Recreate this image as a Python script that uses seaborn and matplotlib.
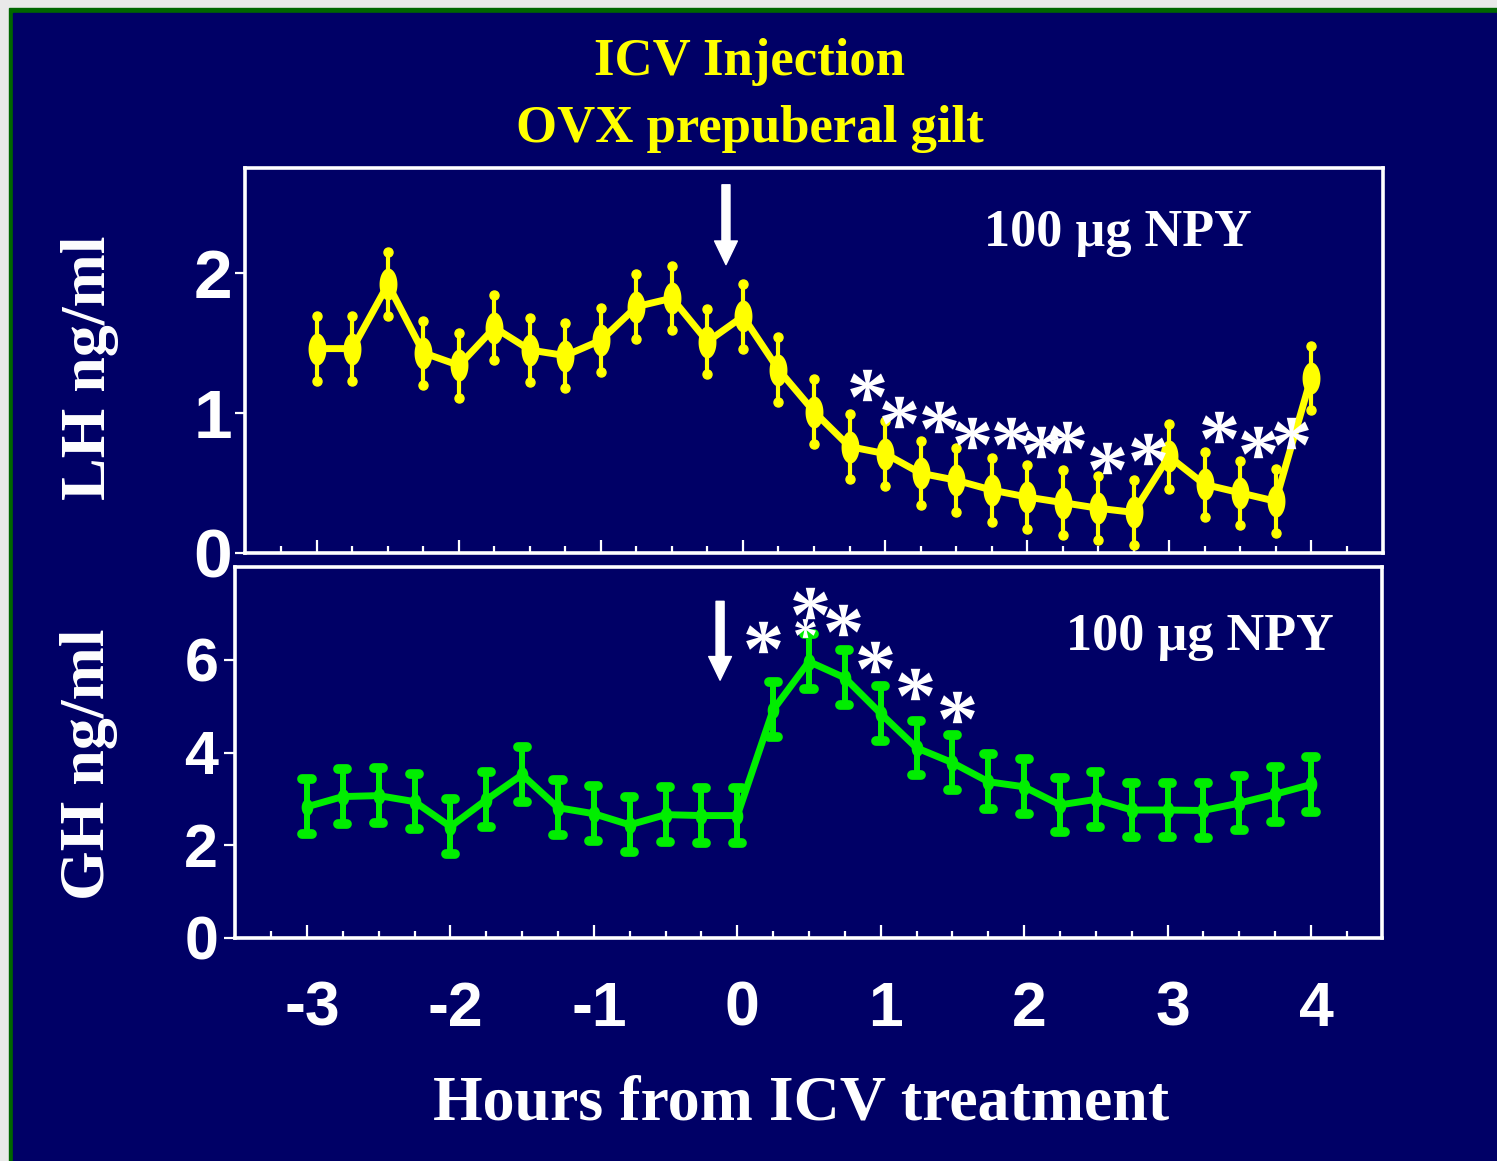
import numpy as np
import matplotlib
matplotlib.use("Agg")
import matplotlib.pyplot as plt
import seaborn as sns
from matplotlib.path import Path
from matplotlib.textpath import TextPath
from matplotlib.font_manager import FontProperties
from matplotlib.patches import Rectangle
from matplotlib.ticker import FixedLocator
from matplotlib.transforms import ScaledTranslation

# ---------------------------------------------------------------- data
hours = [-3.0, -2.75, -2.5, -2.25, -2.0, -1.75, -1.5, -1.25, -1.0, -0.75, -0.5, -0.25,
         0.0, 0.25, 0.5, 0.75, 1.0, 1.25, 1.5, 1.75, 2.0, 2.25, 2.5, 2.75,
         3.0, 3.25, 3.5, 3.75, 4.0]

lh_mean = [1.46, 1.46, 1.92, 1.43, 1.34, 1.61, 1.45, 1.41, 1.52, 1.76, 1.82, 1.51,
           1.69, 1.31, 1.01, 0.76, 0.71, 0.57, 0.52, 0.45, 0.40, 0.36, 0.32, 0.29,
           0.69, 0.49, 0.43, 0.37, 1.25]
lh_sem = [0.23] * 29

gh_mean = [2.83, 3.05, 3.07, 2.94, 2.40, 2.98, 3.52, 2.81, 2.68, 2.44, 2.66, 2.64,
           2.64, 4.92, 5.96, 5.61, 4.84, 4.10, 3.78, 3.37, 3.26, 2.87, 2.99, 2.76,
           2.76, 2.75, 2.91, 3.10, 3.31]
gh_sem = [0.59] * 29

# significance asterisks (hours, ng/ml)
lh_star_x = [0.87, 1.10, 1.38, 1.61, 1.89, 2.10, 2.28, 2.56, 2.85, 3.35, 3.63, 3.86]
lh_star_y = [1.20, 1.01, 0.97, 0.86, 0.86, 0.79, 0.83, 0.68, 0.74, 0.90, 0.79, 0.86]
gh_star_x = [0.18, 0.51, 0.74, 0.96, 1.24, 1.53]
gh_star_y = [6.49, 7.22, 6.85, 6.06, 5.47, 4.98]
gh_small_star = (0.47, 6.68)

x_ticks = [-3, -2, -1, 0, 1, 2, 3, 4]
x_ticklabels = ["-3", "-2", "-1", "0", "1", "2", "3", "4"]
lh_ticks = [0, 1, 2]
gh_ticks = [0, 2, 4, 6]
injection_time = -0.12

# ---------------------------------------------------------------- style
NAVY = "#000066"
YELLOW = "#ffff00"
GREEN = "#00ee00"
BORDER = "#006600"

sns.set_style("dark", rc={
    "axes.facecolor": NAVY,
    "figure.facecolor": "#e9e9e9",
    "axes.edgecolor": "white",
    "axes.grid": False,
    "xtick.color": "white",
    "ytick.color": "white",
    "text.color": "white",
    "xtick.bottom": True,
    "ytick.left": True,
})
plt.rcParams["font.family"] = ["Liberation Sans", "DejaVu Sans"]
plt.rcParams["font.weight"] = "bold"
SERIF = ["Liberation Serif", "DejaVu Serif"]

W, H = 1497, 1161
fig = plt.figure(figsize=(W / 100, H / 100), dpi=100)


def px_box(left, top, right, bottom):
    return [left / W, 1 - bottom / H, (right - left) / W, (bottom - top) / H]


# slide background with its green edge
fig.patches.append(Rectangle((9 / W, 0), 1, 1 - 8 / H, transform=fig.transFigure,
                             color=BORDER, zorder=-3))
fig.patches.append(Rectangle((13 / W, 0), 1, 1 - 13 / H, transform=fig.transFigure,
                             color=NAVY, zorder=-2))

ax_lh = fig.add_axes(px_box(245, 168, 1383, 553))
ax_gh = fig.add_axes(px_box(235, 567, 1382, 938))


def ellipse_marker(rx, ry):
    t = np.linspace(0, 2 * np.pi, 60)
    return Path(np.column_stack([rx * np.cos(t), ry * np.sin(t)]), closed=True)


def asterisk_marker():
    tp = TextPath((0, 0), "*", size=1,
                  prop=FontProperties(family="Liberation Serif", weight="bold"))
    ext = tp.get_extents()
    centre = np.array([(ext.x0 + ext.x1) / 2, (ext.y0 + ext.y1) / 2])
    verts = tp.vertices - centre
    codes = tp.codes
    # closing vertices are not drawn; keep them from skewing the marker scale
    verts[codes == Path.CLOSEPOLY] = 0.0
    return Path(verts, codes)


STAR = asterisk_marker()


def frame(ax, xlim, ylim, yticks, ysize, ylen, ypad, xlabels):
    ax.set_xlim(*xlim)
    ax.set_ylim(*ylim)
    for s in ax.spines.values():
        s.set_visible(True)
        s.set_color("white")
        s.set_linewidth(2.6)
    ax.xaxis.set_major_locator(FixedLocator(x_ticks))
    ax.xaxis.set_minor_locator(FixedLocator(np.arange(-3.25, 4.26, 0.25)))
    ax.yaxis.set_major_locator(FixedLocator(yticks))
    ax.tick_params(axis="x", which="major", direction="in", length=9.5, width=1.6,
                   bottom=True, top=False, labelsize=45, pad=30,
                   labelbottom=xlabels)
    ax.tick_params(axis="x", which="minor", direction="in", length=5, width=1.6,
                   bottom=True, top=False)
    ax.tick_params(axis="y", which="major", direction="out", length=ylen, width=1.6,
                   left=True, labelsize=ysize, pad=ypad)
    ax.set_yticklabels([str(v) for v in yticks])
    if xlabels:
        ax.set_xticklabels(x_ticklabels)
        shift = ScaledTranslation(5 / 100, 0, fig.dpi_scale_trans)
        for lab in ax.get_xticklabels():
            lab.set_transform(lab.get_transform() + shift)
    ax.set_xlabel("")
    ax.set_ylabel("")


def injection_arrow(ax, top, tip):
    ax.annotate("", xy=(injection_time, tip), xytext=(injection_time, top),
                arrowprops=dict(arrowstyle="simple,head_length=0.85,head_width=0.82,tail_width=0.29",
                                color="white", shrinkA=0, shrinkB=0, mutation_scale=20))


# ---------------------------------------------------------------- LH panel
lh_lo = np.array(lh_mean) - np.array(lh_sem)
lh_hi = np.array(lh_mean) + np.array(lh_sem)
ax_lh.errorbar(hours, lh_mean, yerr=lh_sem, fmt="none", ecolor=YELLOW,
               elinewidth=3.0, capsize=0, zorder=2)
ax_lh.plot(hours, lh_lo, ls="none", marker="o", ms=6.5, color=YELLOW, zorder=2)
ax_lh.plot(hours, lh_hi, ls="none", marker="o", ms=6.5, color=YELLOW, zorder=2)
sns.lineplot(x=hours, y=lh_mean, ax=ax_lh, color=YELLOW, lw=5, errorbar=None,
             marker=ellipse_marker(0.28, 0.5), markersize=23, markeredgewidth=0,
             zorder=3)
ax_lh.plot(lh_star_x, lh_star_y, ls="none", marker=STAR, ms=25, color="white",
           markeredgewidth=0, zorder=4)
injection_arrow(ax_lh, 2.63, 2.06)
ax_lh.text(0.767, 0.797, "100 µg NPY", transform=ax_lh.transAxes, ha="center",
           va="baseline", fontsize=37.5, family=SERIF, color="white")
frame(ax_lh, (-3.507, 4.507), (0, 2.75), lh_ticks, 50, 7, 2, False)

# ---------------------------------------------------------------- GH panel
gh_lo = np.array(gh_mean) - np.array(gh_sem)
gh_hi = np.array(gh_mean) + np.array(gh_sem)
hx = np.array(hours)
ax_gh.errorbar(hours, gh_mean, yerr=gh_sem, fmt="none", ecolor=GREEN,
               elinewidth=4.3, capsize=0, zorder=2)
ax_gh.hlines(np.concatenate([gh_lo, gh_hi]), np.concatenate([hx, hx]) - 0.032,
             np.concatenate([hx, hx]) + 0.032, colors=GREEN, lw=7, capstyle="round",
             zorder=2)
sns.lineplot(x=hours, y=gh_mean, ax=ax_gh, color=GREEN, lw=5, errorbar=None,
             marker=ellipse_marker(0.35, 0.5), markersize=12, markeredgewidth=0,
             zorder=3)
ax_gh.plot(gh_star_x, gh_star_y, ls="none", marker=STAR, ms=25, color="white",
           markeredgewidth=0, zorder=4)
ax_gh.plot([gh_small_star[0]], [gh_small_star[1]], ls="none", marker=STAR, ms=15,
           color="white", markeredgewidth=0, zorder=4)
injection_arrow(ax_gh, 7.26, 5.56)
ax_gh.text(0.841, 0.775, "100 µg NPY", transform=ax_gh.transAxes, ha="center",
           va="baseline", fontsize=37.5, family=SERIF, color="white")
frame(ax_gh, (-3.502, 4.495), (0, 8), gh_ticks, 44, 8, 4, True)

# ---------------------------------------------------------------- titles
fig.text(749 / W, 1 - 75 / H, "ICV Injection", ha="center", va="baseline",
         fontsize=38, family=SERIF, color=YELLOW)
fig.text(750 / W, 1 - 142 / H, "OVX prepuberal gilt", ha="center", va="baseline",
         fontsize=38, family=SERIF, color=YELLOW)
fig.text(801 / W, 1 - 1120 / H, "Hours from ICV treatment", ha="center",
         va="baseline", fontsize=46, family=SERIF, color="white")
fig.text(105 / W, 1 - 368 / H, "LH ng/ml", rotation=90, rotation_mode="anchor",
         ha="center", va="baseline", fontsize=46, family=SERIF, color="white")
fig.text(104 / W, 1 - 764 / H, "GH ng/ml", rotation=90, rotation_mode="anchor",
         ha="center", va="baseline", fontsize=46, family=SERIF, color="white")

fig.savefig("out.png", dpi=100, facecolor=fig.get_facecolor())
